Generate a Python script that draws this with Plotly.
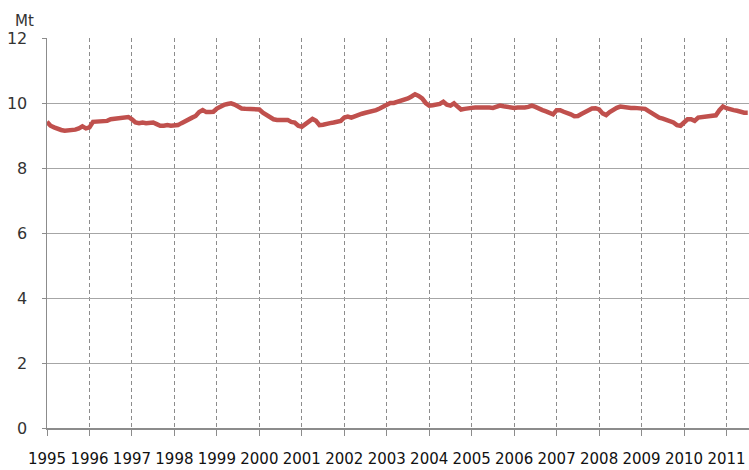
import plotly.graph_objects as go

start_year = 1995
values_1995 = [9.42, 9.30, 9.25, 9.20, 9.17, 9.15, 9.15, 9.15, 9.18, 9.22, 9.28, 9.22]
values_1996 = [9.25, 9.42, 9.43, 9.45, 9.47, 9.45, 9.50, 9.52, 9.53, 9.55, 9.56, 9.57]
values_1997 = [9.50, 9.40, 9.38, 9.40, 9.38, 9.40, 9.40, 9.35, 9.30, 9.30, 9.32, 9.30]
values_1998 = [9.30, 9.32, 9.38, 9.45, 9.48, 9.55, 9.60, 9.72, 9.78, 9.72, 9.72, 9.73]
values_1999 = [9.83, 9.90, 9.94, 9.97, 9.99, 9.95, 9.90, 9.83, 9.82, 9.82, 9.82, 9.82]
values_2000 = [9.80, 9.70, 9.63, 9.57, 9.50, 9.48, 9.49, 9.47, 9.48, 9.42, 9.40, 9.30]
values_2001 = [9.27, 9.35, 9.45, 9.51, 9.45, 9.32, 9.33, 9.37, 9.38, 9.40, 9.43, 9.45]
values_2002 = [9.55, 9.58, 9.55, 9.60, 9.65, 9.67, 9.70, 9.72, 9.73, 9.78, 9.83, 9.90]
values_2003 = [9.96, 10.00, 10.00, 10.03, 10.05, 10.10, 10.14, 10.20, 10.27, 10.22, 10.14, 10.00]
values_2004 = [9.92, 9.93, 9.95, 9.97, 10.04, 9.95, 9.92, 9.99, 9.89, 9.80, 9.82, 9.85]
values_2005 = [9.85, 9.86, 9.86, 9.89, 9.87, 9.86, 9.85, 9.88, 9.92, 9.90, 9.88, 9.87]
values_2006 = [9.85, 9.86, 9.85, 9.86, 9.88, 9.92, 9.88, 9.82, 9.78, 9.74, 9.70, 9.65]
values_2007 = [9.78, 9.78, 9.73, 9.70, 9.65, 9.59, 9.60, 9.66, 9.73, 9.80, 9.83, 9.84]
values_2008 = [9.80, 9.68, 9.63, 9.72, 9.80, 9.85, 9.89, 9.87, 9.86, 9.85, 9.85, 9.85]
values_2009 = [9.85, 9.82, 9.75, 9.68, 9.62, 9.55, 9.52, 9.48, 9.44, 9.40, 9.32, 9.30]
values_2010 = [9.40, 9.50, 9.50, 9.45, 9.55, 9.56, 9.57, 9.58, 9.60, 9.62, 9.78, 9.89]
values_2011 = [9.84, 9.80, 9.78, 9.76, 9.72, 9.70, 9.70]

year_ticks = list(range(1995, 2012))
year_labels = [str(y) for y in year_ticks]
y_ticks = [0, 2, 4, 6, 8, 10, 12]

values = (values_1995 + values_1996 + values_1997 + values_1998 + values_1999 +
          values_2000 + values_2001 + values_2002 + values_2003 + values_2004 +
          values_2005 + values_2006 + values_2007 + values_2008 + values_2009 +
          values_2010 + values_2011)
x = [start_year + i / 12 for i in range(len(values))]

fig = go.Figure()
fig.add_trace(go.Scatter(x=x, y=values, mode="lines",
                         line=dict(color="#c0504d", width=4.5),
                         hoverinfo="skip", showlegend=False))

fig.update_layout(
    width=749, height=470,
    margin=dict(l=47, r=0, t=38, b=42),
    paper_bgcolor="white", plot_bgcolor="white",
    font=dict(family="DejaVu Sans", color="#222222"),
    xaxis=dict(range=[1995, 2011.53], tickvals=year_ticks, ticktext=year_labels,
               showgrid=True, gridcolor="#8c8c8c", griddash="4px,3px", gridwidth=1,
               showline=True, linecolor="#8c8c8c", linewidth=1.5,
               ticks="outside", ticklen=6, tickcolor="#8c8c8c",
               ticklabelstandoff=10,
               tickfont=dict(size=15, color="#111111", family="DejaVu Sans"),
               zeroline=False, fixedrange=True),
    yaxis=dict(range=[0, 12], tickvals=y_ticks,
               showgrid=True, gridcolor="#a6a6a6", gridwidth=1,
               showline=True, linecolor="#8c8c8c", linewidth=1.5,
               ticks="outside", ticklen=4, tickcolor="#8c8c8c",
               ticklabelstandoff=11,
               tickfont=dict(size=16, color="#333333", family="DejaVu Sans"),
               zeroline=False, fixedrange=True),
)

fig.add_annotation(text="Mt", xref="paper", yref="paper", x=-0.032, y=1.0,
                   xanchor="center", yanchor="bottom", yshift=6, showarrow=False,
                   font=dict(size=15, color="#333333", family="DejaVu Sans"))

fig.write_html("out.html", config={"staticPlot": True},
               post_script="document.body.style.margin='0';document.body.style.padding='0';")
